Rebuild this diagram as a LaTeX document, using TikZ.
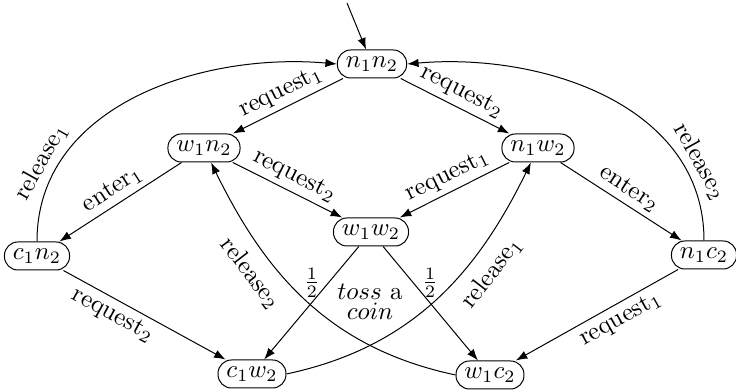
\documentclass[tikz,border=0pt]{standalone}
\usetikzlibrary{arrows.meta}
\begin{document}
\begin{tikzpicture}[x=0.0141cm,y=-0.0141cm,
  state/.style={draw,rectangle,rounded corners=0.19cm,minimum height=0.395cm,inner xsep=3.4pt,inner ysep=1pt},
  edge/.style={-{Latex[length=4.6pt,width=3.4pt]}},
  lab/.style={sloped,inner sep=2pt}]
\useasboundingbox (0,0) rectangle (736,392);
\node[state] (nn) at (372,64) {$n_1n_2$};
\node[state] (wn) at (204,148) {$w_1n_2$};
\node[state] (nw) at (538,148) {$n_1w_2$};
\node[state] (cn) at (37,256) {$c_1n_2$};
\node[state] (ww) at (371,232) {$w_1w_2$};
\node[state] (nc) at (704,255) {$n_1c_2$};
\node[state] (cw) at (252,374) {$c_1w_2$};
\node[state] (wc) at (490,375) {$w_1c_2$};
\coordinate (start) at (347,3);
\node[align=center] (toss) at (370,302) {$toss$ a\\[-4pt]$coin$};

\draw[edge] (start) -- (nn);
\draw[edge] (nn) -- node[lab,above] {request$_1$} (wn);
\draw[edge] (nn) -- node[lab,above] {request$_2$} (nw);
\draw[edge] (wn) -- node[lab,above] {enter$_1$} (cn);
\draw[edge] (wn) -- node[lab,above] {request$_2$} (ww);
\draw[edge] (nw) -- node[lab,above] {request$_1$} (ww);
\draw[edge] (nw) -- node[lab,above] {enter$_2$} (nc);
\draw[edge] (cn) -- node[lab,below,pos=0.35] {request$_2$} (cw);
\draw[edge] (nc) -- node[lab,below,pos=0.4] {request$_1$} (wc);
\draw[edge] (ww) -- node[left,pos=0.32] {$\frac{1}{2}$} (cw);
\draw[edge] (ww) -- node[right,pos=0.32] {$\frac{1}{2}$} (wc);
\draw[edge] (cn.north) to[out=90,in=175] node[lab,above,pos=0.2] {release$_1$} (nn.west);
\draw[edge] (nc.north) to[out=90,in=5] node[lab,above,pos=0.2] {release$_2$} (nn.east);
\draw[edge] (cw.east) to[out=12,in=-116] node[lab,below,pos=0.68,inner sep=5pt] {release$_1$} (nw);
\draw[edge] (wc.west) to[out=168,in=-64] node[lab,below,pos=0.68,inner sep=5pt] {release$_2$} (wn);
\end{tikzpicture}
\end{document}
